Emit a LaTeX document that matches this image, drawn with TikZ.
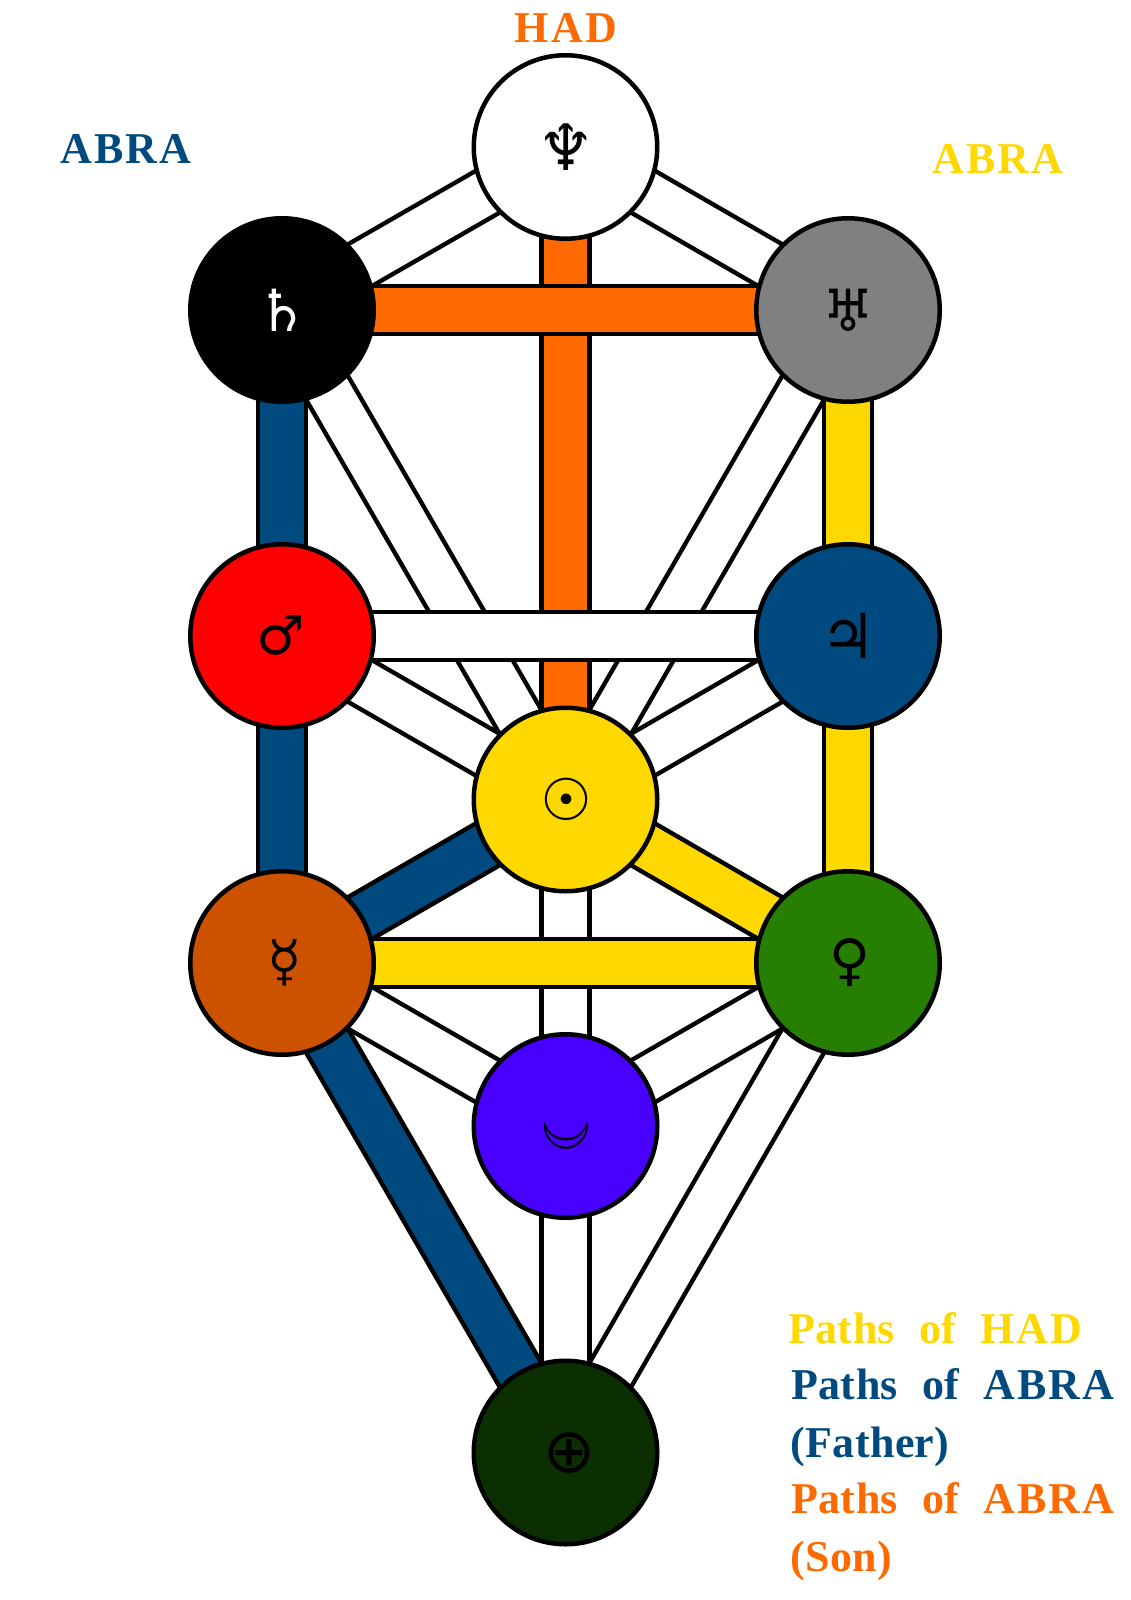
\documentclass[tikz,border=0pt]{standalone}
\usepackage{fontspec}
\setmainfont{Liberation Serif}[BoldFont={Liberation Serif Bold},WordSpace=2.1,LetterSpace=1]
\newfontfamily\symfont{DejaVu Sans}
\usetikzlibrary{backgrounds}
\definecolor{abrablue}{HTML}{004A7F}
\definecolor{sonorange}{HTML}{FF6A00}
\definecolor{hadgold}{HTML}{FFD800}
\definecolor{hodbrown}{HTML}{CC5200}
\definecolor{netzgreen}{HTML}{267F00}
\definecolor{yesodviolet}{HTML}{4800FF}
\definecolor{malkgreen}{HTML}{0B2F00}
\newcommand{\planet}[4]{\hspace*{#2pt}\raisebox{#3pt}{\fontsize{#1}{#1}\selectfont #4}}
\newcommand{\wide}[1]{{\addfontfeature{LetterSpace=5}#1}}
\tikzset{
  sphere/.style={circle, draw=black, line width=4.5pt, minimum size=183.5pt, inner sep=0pt, text=black, font=\symfont},
  tree/.style={line width=4.5pt, double distance=43.5pt},
  whitepath/.style={tree, double=white},
  bluepath/.style={tree, double=abrablue},
  orangepath/.style={tree, double=sonorange},
  goldpath/.style={tree, double=hadgold},
  label/.style={anchor=base west, inner sep=0pt, font=\bfseries\fontsize{44}{44}\selectfont},
}
\begin{document}
\begin{tikzpicture}[x=1pt, y=-1pt]
  \useasboundingbox (0, 0) rectangle (1131, 1600);

  \node[sphere, fill=white] (neptune) at (565.5, 147) {\planet{64}{2}{0}{♆}};
  \node[sphere, fill=black, text=white] (saturn) at (282, 310) {\planet{58}{0}{0}{♄}};
  \node[sphere, fill=gray] (uranus) at (848, 310) {\planet{58}{0}{0}{♅}};
  \node[sphere, fill=red] (mars) at (282, 636) {\planet{54}{-2}{2}{♂}};
  \node[sphere, fill=abrablue] (jupiter) at (848, 636) {\planet{62}{0}{0}{♃}};
  \node[sphere, fill=hadgold] (sun) at (565.5, 799.5) {\planet{58}{2}{0}{☉}};
  \node[sphere, fill=hodbrown] (mercury) at (282, 963) {\planet{56}{6}{5}{☿}};
  \node[sphere, fill=netzgreen] (venus) at (848, 963) {\planet{56}{4}{4}{♀}};
  \node[sphere, fill=yesodviolet] (moon) at (565.5, 1126) {\planet{60}{2}{-3}{\rotatebox{-90}{☽}}};
  \node[sphere, fill=malkgreen] (earth) at (565.5, 1452.5) {\planet{62}{8}{0}{⊕}};

  \begin{pgfonlayer}{background}
    \draw[whitepath] (neptune.center) -- (saturn.center);
    \draw[whitepath] (neptune.center) -- (uranus.center);
    \draw[whitepath] (saturn.center) -- (sun.center);
    \draw[whitepath] (uranus.center) -- (sun.center);
    \draw[whitepath] (mars.center) -- (sun.center);
    \draw[whitepath] (jupiter.center) -- (sun.center);
    \draw[whitepath] (mercury.center) -- (moon.center);
    \draw[whitepath] (venus.center) -- (moon.center);
    \draw[whitepath] (venus.center) -- (earth.center);
    \draw[whitepath] (sun.center) -- (moon.center);
    \draw[whitepath] (moon.center) -- (earth.center);
    \draw[orangepath] (neptune.center) -- (sun.center);
    \draw[bluepath] (saturn.center) -- (mars.center);
    \draw[bluepath] (mars.center) -- (mercury.center);
    \draw[goldpath] (uranus.center) -- (jupiter.center);
    \draw[goldpath] (jupiter.center) -- (venus.center);
    \draw[bluepath] (sun.center) -- (mercury.center);
    \draw[goldpath] (sun.center) -- (venus.center);
    \draw[bluepath] (mercury.center) -- (earth.center);
    \draw[orangepath] (saturn.center) -- (uranus.center);
    \draw[whitepath] (mars.center) -- (jupiter.center);
    \draw[goldpath] (mercury.center) -- (venus.center);
  \end{pgfonlayer}

  \node[label, text=sonorange, anchor=base] (had) at (566, 43) {\wide{HAD}};
  \node[label, text=abrablue] (abraleft) at (60, 163) {\wide{ABRA}};
  \node[label, text=hadgold] (abraright) at (932, 173) {\wide{ABRA}};
  \node[label, text=hadgold] (keyhad) at (788, 1343) {Paths of \wide{HAD}};
  \node[label, text=abrablue] (keyfather) at (791, 1399) {Paths of \wide{ABRA}};
  \node[label, text=abrablue] (father) at (790, 1457) {(Father)};
  \node[label, text=sonorange] (keyson) at (791, 1513) {Paths of \wide{ABRA}};
  \node[label, text=sonorange] (son) at (790, 1571) {(Son)};
\end{tikzpicture}
\end{document}
